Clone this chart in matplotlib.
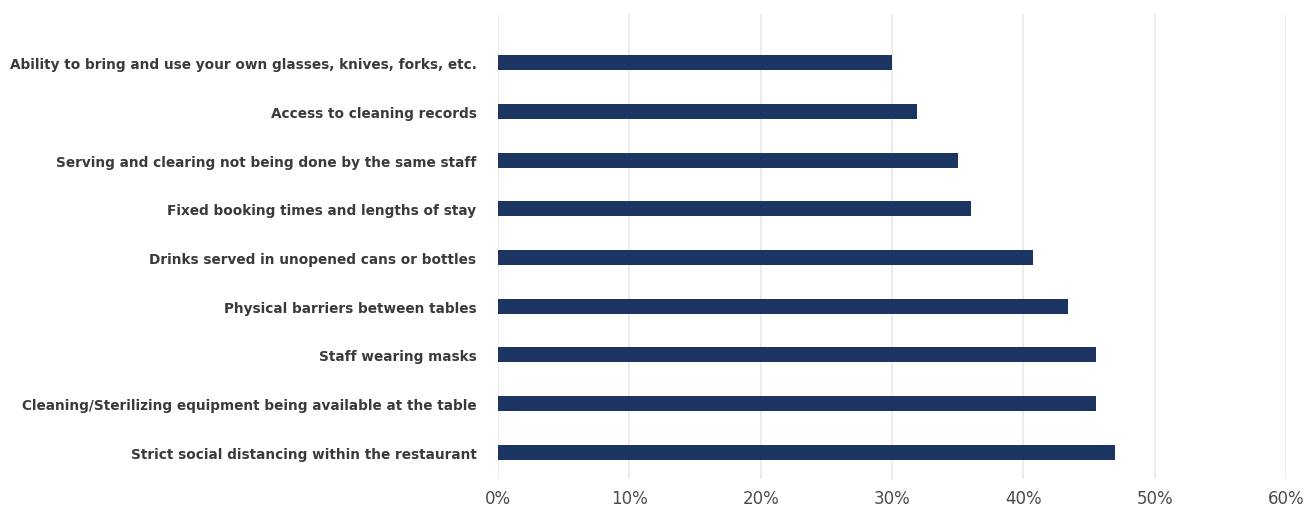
import matplotlib.pyplot as plt
from matplotlib.ticker import PercentFormatter

# measures, top to bottom as shown
measures = [
    "Ability to bring and use your own glasses, knives, forks, etc.",
    "Access to cleaning records",
    "Serving and clearing not being done by the same staff",
    "Fixed booking times and lengths of stay",
    "Drinks served in unopened cans or bottles",
    "Physical barriers between tables",
    "Staff wearing masks",
    "Cleaning/Sterilizing equipment being available at the table",
    "Strict social distancing within the restaurant",
]
shares = [30.0, 31.9, 35.0, 36.0, 40.7, 43.4, 45.5, 45.5, 47.0]
x_ticks = [0, 10, 20, 30, 40, 50, 60]

fig = plt.figure(figsize=(13.16, 5.10), dpi=100)
ax = fig.add_axes([0.3784, 0.0588, 0.5988, 0.9118])

pos = list(range(len(measures)))
ax.barh(pos, shares, height=0.31, color="#1b3461", zorder=3)

ax.set_xlim(0, 60)
ax.set_ylim(8.55, -1.0)
ax.set_xticks(x_ticks)
ax.xaxis.set_major_formatter(PercentFormatter(decimals=0))
ax.set_yticks(pos)
ax.set_yticklabels(measures, fontsize=9.8, fontweight="bold", color="#3a3a3a")

ax.grid(axis="x", color="#e8e8e8", linewidth=1.2, zorder=0)
ax.tick_params(axis="y", length=0, pad=15.5)
ax.tick_params(axis="x", length=0, pad=7, labelsize=12, labelcolor="#4a4a4a")
for s in ax.spines.values():
    s.set_visible(False)

fig.savefig("out.png", dpi=100)
